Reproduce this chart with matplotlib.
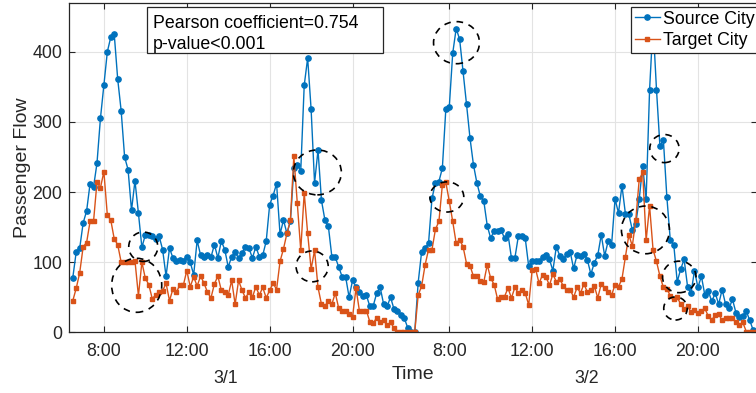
import numpy as np
import matplotlib
matplotlib.use("Agg")
import matplotlib.pyplot as plt
from matplotlib.patches import Ellipse, Rectangle

# 10-minute samples, 6:30-22:50 for 3/1 then 3/2 (night hours dropped)
source_city = [
    78, 115, 120, 156, 173, 212, 207, 241, 305, 352,
    400, 421, 425, 361, 316, 250, 232, 174, 216, 170,
    121, 139, 139, 137, 133, 137, 118, 80, 120, 106,
    101, 103, 102, 108, 100, 82, 131, 110, 108, 110,
    107, 125, 106, 130, 118, 93, 108, 114, 106, 113,
    122, 120, 106, 122, 108, 110, 130, 182, 195, 212,
    140, 160, 141, 158, 234, 239, 230, 352, 391, 318,
    213, 260, 188, 160, 151, 108, 107, 93, 79, 79,
    50, 74, 65, 58, 52, 53, 37, 38, 56, 64,
    40, 37, 50, 33, 30, 25, 20, 6, 0, 0,
    71, 115, 120, 127, 191, 213, 215, 234, 318, 321,
    398, 433, 418, 372, 325, 277, 239, 213, 194, 187,
    152, 134, 145, 145, 146, 134, 140, 106, 106, 137,
    137, 134, 94, 101, 101, 101, 107, 110, 104, 88,
    122, 109, 104, 112, 115, 91, 110, 109, 112, 103,
    83, 99, 110, 139, 109, 130, 125, 190, 170, 209,
    169, 168, 146, 155, 190, 237, 190, 346, 440, 346,
    265, 274, 193, 131, 125, 72, 90, 104, 65, 56,
    88, 64, 80, 53, 59, 44, 56, 40, 61, 40,
    34, 47, 28, 22, 23, 30, 17, 3, 0,
]
target_city = [
    45, 63, 85, 122, 128, 158, 158, 214, 206, 229,
    167, 160, 133, 125, 100, 100, 100, 100, 102, 52,
    100, 77, 68, 48, 53, 58, 59, 70, 45, 62,
    57, 68, 67, 88, 65, 79, 66, 80, 70, 57,
    49, 69, 80, 60, 58, 53, 74, 40, 74, 60,
    49, 57, 50, 65, 53, 64, 49, 60, 70, 61,
    101, 119, 141, 160, 251, 185, 117, 199, 141, 90,
    117, 64, 40, 38, 44, 40, 56, 34, 31, 30,
    26, 22, 63, 30, 31, 31, 15, 13, 21, 15,
    17, 10, 14, 6, 1, 0, 0, 0, 0, 0,
    53, 66, 96, 118, 118, 147, 158, 210, 214, 187,
    158, 127, 132, 122, 98, 95, 80, 80, 73, 72,
    96, 77, 68, 47, 50, 51, 63, 49, 64, 56,
    60, 56, 39, 89, 90, 70, 82, 79, 67, 83,
    72, 76, 66, 60, 61, 50, 64, 56, 69, 57,
    60, 66, 49, 69, 63, 57, 53, 68, 65, 76,
    107, 139, 123, 160, 218, 228, 131, 180, 118, 101,
    80, 64, 62, 52, 47, 50, 40, 33, 37, 29,
    32, 27, 31, 34, 23, 18, 24, 26, 17, 20,
    21, 20, 14, 10, 14, 1, 0, 0, 0,
]
tick_pos = [9, 33, 57, 81, 109, 133, 157, 181]
tick_labels = ["8:00", "12:00", "16:00", "20:00", "8:00", "12:00", "16:00", "20:00"]
day_labels = ["3/1", "3/2"]
day_pos = [44.3, 148.8]
# highlighted spots: (sample, flow, width in samples, height in flow)
circles = [
    (20.4, 122, 8.4, 42), (18.5, 67, 14.5, 77), (70.8, 228, 13.9, 64),
    (69.3, 94, 9.3, 44), (111.1, 413, 13.3, 60), (108.3, 193, 9.8, 43),
    (171.3, 262, 8.5, 40), (165.8, 146, 13.9, 68), (175.6, 79, 9.7, 45),
    (174.5, 34, 6.8, 33),
]
stats_text = "Pearson coefficient=0.754\np-value<0.001"

plt.rcParams["font.family"] = ["Liberation Sans", "DejaVu Sans"]
dark = "#262626"

fig = plt.figure(figsize=(7.56, 3.93), dpi=100)
ax = fig.add_axes([69 / 756, (393 - 332.3) / 393, (757 - 69) / 756, (332.3 - 2.7) / 393])

x = np.arange(len(source_city))
ax.plot(x, source_city, "-o", color="#0072BD", lw=1.0, ms=3.8, label="Source City")
ax.plot(x, target_city, "-s", color="#D95319", lw=1.0, ms=3.3, label="Target City")

for cx, cy, w, h in circles:
    ax.add_patch(Ellipse((cx, cy), w, h, fill=False, ec="black", lw=1.2, ls=(0, (4, 3.5)), zorder=5))

ax.set_xlim(-1.1, 198.1)
ax.set_ylim(0, 470)
ax.set_xticks(tick_pos)
ax.set_xticklabels(tick_labels)
ax.set_yticks([0, 100, 200, 300, 400])
ax.tick_params(direction="in", top=True, right=True, length=4, width=0.8,
               labelsize=12.8, colors=dark)
ax.tick_params(axis="x", pad=7.8)
ax.tick_params(axis="y", pad=5)
ax.grid(True, color="#e3e3e3", lw=0.8)
ax.set_axisbelow(True)
for sp in ax.spines.values():
    sp.set_color(dark)
    sp.set_linewidth(0.9)

ax.set_ylabel("Passenger Flow", fontsize=14, color=dark, labelpad=1)
ax.set_xlabel("Time", fontsize=14, color=dark, labelpad=4)
for lab, pos in zip(day_labels, day_pos):
    ax.text(pos, -0.139, lab, transform=ax.get_xaxis_transform(), ha="center", va="center",
            fontsize=12.8, color=dark)

# statistics box
bx0, bx1 = (147 - 69) / 688, (383 - 69) / 688
by0, by1 = (332.3 - 53) / 329.6, (332.3 - 7) / 329.6
ax.add_patch(Rectangle((bx0, by0), bx1 - bx0, by1 - by0, transform=ax.transAxes,
                       fc="white", ec=dark, lw=0.9, zorder=6))
ax.text((153 - 69) / 688, (332.3 - 34) / 329.6, stats_text, transform=ax.transAxes,
        ha="left", va="center", fontsize=12.8, color="black", linespacing=1.25, zorder=7)

leg = ax.legend(loc="upper left", bbox_to_anchor=((631 - 69) / 688, (332.3 - 7) / 329.6),
                fontsize=12.8, frameon=True, fancybox=False, edgecolor=dark, framealpha=1,
                borderpad=0.2, handlelength=1.45, handletextpad=0.15, labelspacing=0.25,
                borderaxespad=0)
leg.get_frame().set_linewidth(0.9)

fig.savefig("out.png", dpi=100)
